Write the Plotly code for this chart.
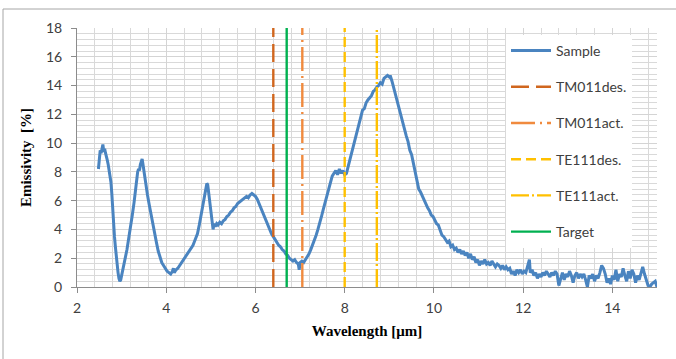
import plotly.graph_objects as go

# ---- data ----
wavelength = [2.48, 2.50, 2.52, 2.54, 2.56, 2.58, 2.60, 2.62, 2.64, 2.66, 2.68, 2.70, 2.72, 2.74, 2.76, 2.78,
              2.80, 2.82, 2.84, 2.86, 2.88, 2.90, 2.92, 2.94, 2.96, 2.98, 3.00,
              3.04, 3.08, 3.12, 3.16, 3.20, 3.24, 3.28, 3.30, 3.32, 3.34, 3.36, 3.38, 3.40, 3.42, 3.44, 3.46,
              3.48, 3.50, 3.52, 3.55, 3.58, 3.62, 3.66, 3.70, 3.74, 3.78, 3.82, 3.86, 3.90, 3.94, 3.98,
              4.02, 4.06, 4.10, 4.14, 4.16, 4.18, 4.22, 4.26, 4.30, 4.35, 4.40, 4.45, 4.50, 4.55, 4.60,
              4.65, 4.70, 4.74, 4.78, 4.82, 4.86, 4.89, 4.91, 4.93, 4.95, 4.97, 4.99, 5.01, 5.03, 5.05,
              5.07, 5.10, 5.13, 5.16, 5.20, 5.24, 5.28, 5.32, 5.36, 5.40, 5.44, 5.48, 5.52, 5.56, 5.60,
              5.64, 5.68, 5.72, 5.76, 5.80, 5.84, 5.88, 5.92, 5.96, 6.00, 6.04, 6.08, 6.12, 6.16, 6.20,
              6.24, 6.28, 6.32, 6.36, 6.40, 6.44, 6.48, 6.52, 6.56, 6.60, 6.64, 6.68, 6.72, 6.76, 6.80,
              6.84, 6.88, 6.92, 6.96, 6.98, 7.00, 7.04, 7.08, 7.12, 7.16, 7.20, 7.24, 7.28, 7.32, 7.36,
              7.40, 7.44, 7.48, 7.52, 7.56, 7.60, 7.64, 7.68, 7.72, 7.76, 7.80, 7.84, 7.88, 7.92, 7.96,
              8.00, 8.04, 8.08, 8.12, 8.16, 8.20, 8.24, 8.28, 8.32, 8.36, 8.40, 8.44, 8.48, 8.52, 8.56,
              8.60, 8.64, 8.68, 8.72, 8.76, 8.80, 8.84, 8.88, 8.92, 8.96, 9.00, 9.02, 9.06, 9.10, 9.14,
              9.18, 9.22, 9.26, 9.30, 9.34, 9.38, 9.42, 9.46, 9.50, 9.54, 9.58, 9.62, 9.66, 9.70, 9.74,
              9.78, 9.82, 9.86, 9.90, 9.94, 9.98, 10.02, 10.06, 10.10, 10.14, 10.18, 10.22, 10.26, 10.30,
              10.34, 10.38, 10.42, 10.46, 10.50, 10.54, 10.58, 10.62, 10.66, 10.70, 10.74, 10.78, 10.82,
              10.86, 10.90, 10.94, 10.98, 11.02, 11.06, 11.10, 11.14, 11.18, 11.22, 11.26, 11.30, 11.34,
              11.38, 11.42, 11.46, 11.50, 11.54, 11.58, 11.62, 11.66, 11.70, 11.74, 11.78, 11.82, 11.86,
              11.90, 11.94, 11.98, 12.02, 12.06, 12.10, 12.14, 12.16, 12.20, 12.24, 12.28, 12.32, 12.36,
              12.40, 12.44, 12.48, 12.52, 12.56, 12.60, 12.64, 12.68, 12.72, 12.76, 12.80, 12.84, 12.88,
              12.92, 12.96, 13.00, 13.04, 13.08, 13.12, 13.16, 13.20, 13.24, 13.28, 13.32, 13.36, 13.40,
              13.44, 13.48, 13.52, 13.56, 13.60, 13.64, 13.68, 13.72, 13.76, 13.80, 13.84, 13.88, 13.92,
              13.96, 14.00, 14.04, 14.08, 14.12, 14.16, 14.20, 14.24, 14.28, 14.32, 14.36, 14.40, 14.44,
              14.48, 14.52, 14.56, 14.60, 14.64, 14.68, 14.72, 14.76, 14.80, 14.84, 14.88, 14.92, 14.96,
              15.00]
emissivity = [8.2, 8.9, 9.5, 9.3, 9.8, 9.9, 9.4, 9.6, 9.3, 9.1, 8.8, 8.5, 8.1, 7.9, 7.3, 6.5,
              5.2, 4.3, 3.5, 2.8, 2.1, 1.5, 1.0, 0.6, 0.4, 0.5, 0.8,
              1.3, 1.9, 2.6, 3.4, 4.1, 5.0, 5.9, 6.4, 7.3, 7.7, 8.0, 8.2, 8.1, 8.5, 8.7, 8.9,
              8.5, 8.0, 7.6, 7.0, 6.4, 5.7, 5.0, 4.4, 3.7, 3.1, 2.5, 2.0, 1.7, 1.5, 1.3,
              1.1, 1.0, 0.9, 1.1, 1.3, 1.0, 1.2, 1.3, 1.5, 1.7, 1.9, 2.2, 2.4, 2.7, 2.9,
              3.3, 3.7, 4.3, 5.0, 5.8, 6.3, 6.8, 7.2, 7.1, 6.6, 6.0, 5.4, 4.8, 4.3, 4.0,
              4.4, 4.2, 4.4, 4.3, 4.5, 4.4, 4.6, 4.7, 4.9, 5.0, 5.2, 5.3, 5.5, 5.6, 5.8,
              5.9, 6.0, 6.1, 6.2, 6.3, 6.2, 6.4, 6.5, 6.4, 6.3, 6.1, 5.8, 5.4, 5.1, 4.8,
              4.5, 4.2, 3.9, 3.7, 3.5, 3.3, 3.1, 2.9, 2.8, 2.6, 2.5, 2.3, 2.2, 2.0, 1.9,
              1.8, 1.9, 1.7, 1.6, 1.2, 1.7, 1.8, 1.7, 1.9, 2.1, 2.3, 2.6, 2.9, 3.2, 3.6,
              4.0, 4.4, 4.9, 5.4, 5.9, 6.4, 6.9, 7.3, 7.7, 7.9, 8.1, 7.8, 8.2, 7.9, 8.1,
              7.8, 7.9, 8.4, 8.9, 9.5, 10.0, 10.5, 11.0, 11.5, 11.9, 12.3, 12.4, 12.8, 13.0, 13.2,
              13.3, 13.6, 13.7, 13.9, 14.0, 14.2, 14.1, 14.5, 14.6, 14.7, 14.6, 14.7, 14.3, 13.8, 13.3,
              12.9, 12.4, 11.8, 11.4, 10.9, 10.5, 10.1, 9.5, 9.2, 8.6, 7.9, 7.5, 6.8, 6.6, 6.3,
              6.1, 5.8, 5.5, 5.3, 5.0, 4.9, 4.6, 4.4, 4.3, 4.0, 3.6, 3.5, 3.3, 3.1,
              3.2, 2.8, 2.9, 2.6, 2.7, 2.4, 2.6, 2.3, 2.5, 2.2, 2.4, 2.0, 2.3,
              1.9, 2.1, 1.7, 1.9, 1.5, 1.8, 1.6, 1.9, 1.6, 1.7, 1.5, 1.8, 1.6,
              1.4, 1.6, 1.5, 1.3, 1.5, 1.2, 1.4, 1.2, 1.3, 0.9, 1.1, 0.8, 1.2,
              1.0, 1.2, 0.9, 1.1, 1.0, 1.4, 1.9, 1.0, 1.2, 0.8, 1.0, 0.6, 0.9,
              0.7, 1.0, 0.8, 1.1, 0.9, 0.7, 1.0, 0.8, 1.1, 0.9, 0.1, 0.6, 1.0,
              0.5, 0.9, 0.7, 1.1, 0.8, 0.3, 0.8, 1.0, 0.6, 0.9, 0.7, 0.9, 0.5,
              0.0, 0.8, 0.6, 0.9, 0.4, 0.8, 0.6, 1.0, 1.5, 1.3, 0.9, 0.3, 0.6,
              0.2, 0.8, 0.5, 1.2, 0.4, 0.9, 0.7, 1.3, 0.8, 0.4, 1.1, 0.6, 1.2,
              0.9, 0.3, 0.8, 0.5, 1.0, 1.4, 0.9, 0.5, 0.1, 0.0, 0.2, 0.3, 0.4,
              0.0]

marker_names = ["TM011des.", "TM011act.", "TE111des.", "TE111act.", "Target"]
marker_positions = [6.4, 7.05, 8.0, 8.72, 6.7]
marker_colors = ["#D0661E", "#F08A3E", "#FFC000", "#FFC000", "#00B050"]
marker_dashes = ["18px,7px", "24px,5px,2px,5px", "10px,5px", "18px,3px,2px,3px", "solid"]

y_range = [0, 18]
x_range = [2, 15]
x_ticks = [2, 4, 6, 8, 10, 12, 14]
y_ticks = [0, 2, 4, 6, 8, 10, 12, 14, 16, 18]

fig = go.Figure()
fig.add_trace(go.Scatter(x=wavelength, y=emissivity, mode="lines", name="Sample",
                         line=dict(color="#4A84C0", width=3), legendgroup="a"))
for i, (nm, pos, col, dsh) in enumerate(zip(marker_names, marker_positions, marker_colors, marker_dashes)):
    fig.add_trace(go.Scatter(x=[pos, pos], y=y_range, mode="lines", name=nm,
                             line=dict(color=col, width=2.4, dash=dsh), legendgroup=str(i)))

W, H = 676, 359
L, R, T, B = 77, 19, 28, 72
PW, PH = W - L - R, H - T - B
fig.update_layout(
    width=W, height=H,
    margin=dict(l=L, r=R, t=T, b=B),
    paper_bgcolor="white", plot_bgcolor="white",
    showlegend=True,
    legend=dict(x=(506 - L) / PW, y=1 - 7 / PH, xanchor="left", yanchor="top",
                bgcolor="white", borderwidth=0, tracegroupgap=15, itemwidth=40,
                font=dict(family="Lato", size=14, color="#404040"), traceorder="grouped"),
    xaxis=dict(range=x_range, tickvals=x_ticks, showgrid=True, gridcolor="#D4D4D4", gridwidth=1,
               minor=dict(dtick=0.4, showgrid=True, gridcolor="#D9D9D9", ticks=""),
               showline=True, linecolor="#8C8C8C", linewidth=1, ticks="outside", ticklen=5,
               tickcolor="#8C8C8C", zeroline=False, ticklabelstandoff=3,
               tickfont=dict(family="Lato", size=14, color="#404040"),
               title=dict(text="<b>Wavelength [μm]</b>", standoff=10,
                          font=dict(family="Liberation Serif", size=15, color="#000000"))),
    yaxis=dict(range=y_range, tickvals=y_ticks, showgrid=True, gridcolor="#D4D4D4", gridwidth=1,
               minor=dict(dtick=0.4, showgrid=True, gridcolor="#D9D9D9", ticks=""),
               showline=True, linecolor="#8C8C8C", linewidth=1, ticks="outside", ticklen=5,
               tickcolor="#8C8C8C", zeroline=False, ticklabelstandoff=6,
               tickfont=dict(family="Lato", size=14, color="#404040"),
               title=dict(text="<b>Emissivity  [%]</b>", standoff=10,
                          font=dict(family="Liberation Serif", size=15, color="#000000"))),
)
# outer chart-area border
fig.add_shape(type="rect", xref="paper", yref="paper",
              x0=(3 - L) / PW, x1=(W + 5 - L) / PW,
              y0=1 - (H + 5 - T) / PH, y1=1 + (T - 9) / PH,
              line=dict(color="#A6A6A6", width=1), fillcolor="rgba(0,0,0,0)", layer="below")

fig.write_html("out.html", config={"displayModeBar": False},
               post_script="document.body.style.margin='0px';")
